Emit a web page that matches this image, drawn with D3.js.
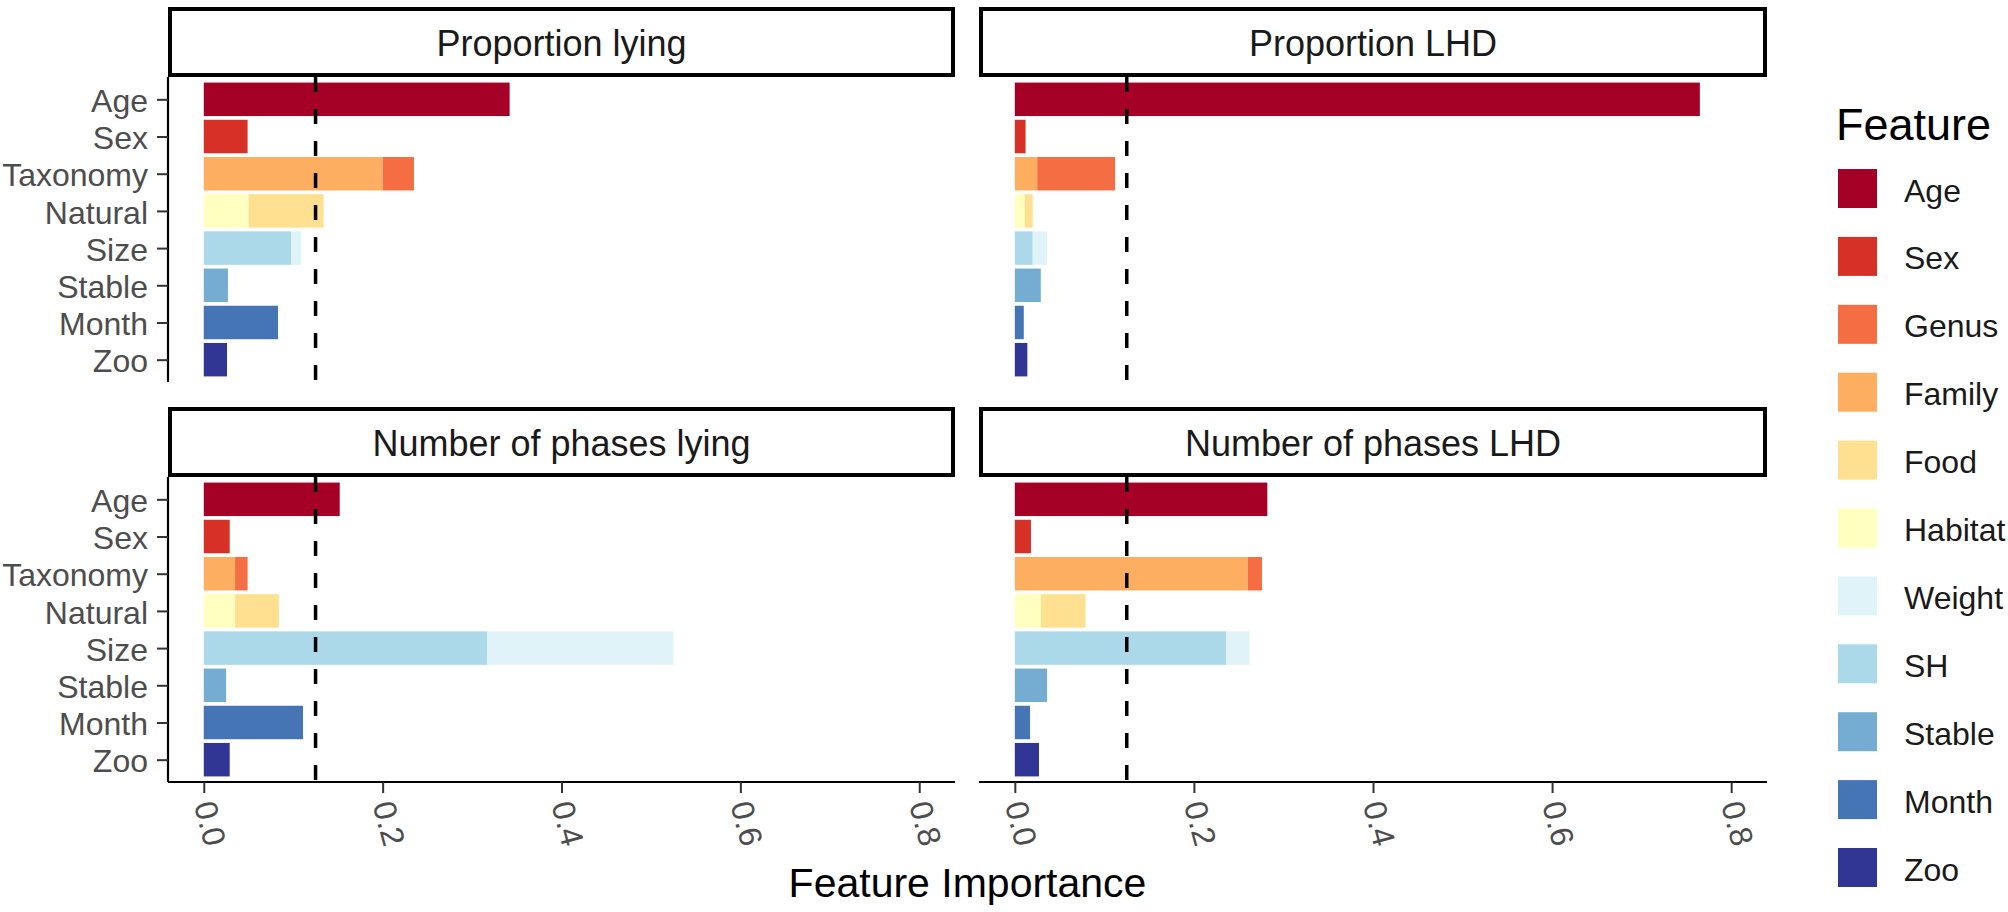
<!DOCTYPE html>
<html>
    <head>
        <meta charset="utf-8">
        <title>Feature importance</title>
        <style type="text/css">
            body {
                margin: 0;
                background-color: #ffffff;
            }
            svg {
                display: block;
                font-family: "Liberation Sans", Arial, sans-serif;
            }
            .strip-text {
                font-size: 36px;
                fill: #1a1a1a;
            }
            .tick-text {
                font-size: 32px;
                fill: #4d4d4d;
            }
            .legend-text {
                font-size: 32px;
                fill: #1a1a1a;
            }
        </style>
        <script src="https://d3js.org/d3.v7.min.js"></script>
    </head>
    <body>
        <svg id="chart" width="2008" height="912"></svg>
        <script>

            // facets, in reading order
            const panels = ["Proportion lying", "Proportion LHD", "Number of phases lying", "Number of phases LHD"];

            // rows of each panel (top to bottom)
            const categories = ["Age", "Sex", "Taxonomy", "Natural", "Size", "Stable", "Month", "Zoo"];

            // legend features, their colour and the row they stack into
            const features = ["Age", "Sex", "Genus", "Family", "Food", "Habitat", "Weight", "SH", "Stable", "Month", "Zoo"];
            const colours = ["#a50026", "#d73027", "#f46d43", "#fdae61", "#fee090", "#ffffbf", "#e0f3f8", "#abd9e9", "#74add1", "#4575b4", "#313695"];
            const featureRow = ["Age", "Sex", "Taxonomy", "Taxonomy", "Natural", "Natural", "Size", "Size", "Stable", "Month", "Zoo"];

            // left to right order inside a stacked bar
            const stackOrder = ["Age", "Sex", "Family", "Genus", "Habitat", "Food", "SH", "Weight", "Stable", "Month", "Zoo"];

            // importance per feature, same order as `features`
            const proportionLying = [0.342, 0.049, 0.035, 0.200, 0.084, 0.050, 0.011, 0.098, 0.027, 0.083, 0.026];
            const proportionLHD = [0.765, 0.012, 0.087, 0.025, 0.009, 0.011, 0.016, 0.020, 0.029, 0.010, 0.014];
            const phasesLying = [0.152, 0.029, 0.014, 0.035, 0.049, 0.035, 0.208, 0.317, 0.025, 0.111, 0.029];
            const phasesLHD = [0.282, 0.018, 0.016, 0.260, 0.050, 0.029, 0.026, 0.236, 0.036, 0.017, 0.027];
            const panelValues = [proportionLying, proportionLHD, phasesLying, phasesLHD];

            const xTicks = [0, 0.2, 0.4, 0.6, 0.8];
            const xTickLabels = ["0.0", "0.2", "0.4", "0.6", "0.8"];
            const threshold = 0.125;

            const svg = d3.select("#chart");

            const cols = [[168, 955], [979, 1767]];
            const rows = [{ strip: 7, top: 77, bottom: 382 }, { strip: 407, top: 477, bottom: 782 }];

            const colour = d3.scaleOrdinal().domain(features).range(colours);

            panels.forEach((title, p) => {
                const col = cols[p % 2];
                const row = rows[Math.floor(p / 2)];
                const isLeft = p % 2 === 0;
                const isBottom = p >= 2;

                const x = d3.scaleLinear().domain([-0.04, 0.84]).range(col);
                const y = d3.scalePoint().domain(categories).range([row.top, row.bottom]).padding(0.6);
                const barH = y.step() * 0.9;

                const g = svg.append("g");

                // strip
                g.append("rect")
                    .attr("x", col[0] + 2)
                    .attr("y", row.strip + 2)
                    .attr("width", col[1] - col[0] - 4)
                    .attr("height", row.top - row.strip - 4)
                    .attr("fill", "#ffffff")
                    .attr("stroke", "#000000")
                    .attr("stroke-width", 4);

                g.append("text")
                    .attr("class", "strip-text")
                    .attr("x", (col[0] + col[1]) / 2)
                    .attr("y", row.strip + 49)
                    .attr("text-anchor", "middle")
                    .text(title);

                // stacked bars
                const vals = panelValues[p];
                const segments = [];
                categories.forEach(cat => {
                    let start = 0;
                    stackOrder.forEach(f => {
                        const i = features.indexOf(f);
                        if (featureRow[i] !== cat) return;
                        segments.push({ feature: f, row: cat, x0: start, x1: start + vals[i] });
                        start += vals[i];
                    });
                });

                g.selectAll("rect.bar")
                    .data(segments)
                    .join("rect")
                    .attr("class", "bar")
                    .attr("x", d => x(d.x0))
                    .attr("y", d => y(d.row) - barH / 2)
                    .attr("width", d => x(d.x1) - x(d.x0))
                    .attr("height", barH)
                    .attr("fill", d => colour(d.feature));

                // threshold line
                g.append("line")
                    .attr("x1", x(threshold))
                    .attr("x2", x(threshold))
                    .attr("y1", row.top)
                    .attr("y2", row.bottom)
                    .attr("stroke", "#000000")
                    .attr("stroke-width", 3.5)
                    .attr("stroke-dasharray", "15,17");

                // y axis on the left column only
                if (isLeft) {
                    const yAxis = g.append("g")
                        .attr("transform", `translate(${col[0]},0)`)
                        .call(d3.axisLeft(y).tickSize(11).tickPadding(9));
                    yAxis.select(".domain")
                        .attr("d", `M0,${row.top}V${row.bottom}`)
                        .attr("stroke", "#000000")
                        .attr("stroke-width", 2.2);
                    yAxis.selectAll(".tick line").attr("stroke", "#333333").attr("stroke-width", 2);
                    yAxis.selectAll(".tick text")
                        .attr("class", "tick-text")
                        .attr("font-family", null)
                        .attr("font-size", null)
                        .attr("fill", null)
                        .attr("dy", "0.38em");
                }

                // x axis on the bottom row only
                if (isBottom) {
                    const xAxis = g.append("g")
                        .attr("transform", `translate(0,${row.bottom})`)
                        .call(d3.axisBottom(x).tickValues(xTicks).tickFormat((d, i) => xTickLabels[i]).tickSize(11));
                    xAxis.select(".domain")
                        .attr("d", `M${col[0]},0H${col[1]}`)
                        .attr("stroke", "#000000")
                        .attr("stroke-width", 2.2);
                    xAxis.selectAll(".tick line").attr("stroke", "#333333").attr("stroke-width", 2);
                    xAxis.selectAll(".tick text")
                        .attr("class", "tick-text")
                        .attr("font-family", null)
                        .attr("font-size", null)
                        .attr("fill", null)
                        .attr("y", null)
                        .attr("dy", null)
                        .attr("text-anchor", "start")
                        .attr("dominant-baseline", "central")
                        .attr("transform", "translate(0,20) rotate(75)");
                }
            });

            // x axis title
            svg.append("text")
                .attr("x", (cols[0][0] + cols[1][1]) / 2)
                .attr("y", 897)
                .attr("text-anchor", "middle")
                .attr("font-size", 41)
                .attr("fill", "#000000")
                .text("Feature Importance");

            // legend
            const legend = svg.append("g").attr("transform", "translate(1838,0)");

            legend.append("text")
                .attr("x", -2)
                .attr("y", 140)
                .attr("font-size", 45)
                .attr("fill", "#000000")
                .text("Feature");

            const keyY = d3.scalePoint().domain(features).range([169, 848]);

            const keys = legend.selectAll("g.key")
                .data(features)
                .join("g")
                .attr("class", "key")
                .attr("transform", d => `translate(0,${keyY(d)})`);

            keys.append("rect")
                .attr("width", 39)
                .attr("height", 39)
                .attr("fill", d => colour(d));

            keys.append("text")
                .attr("class", "legend-text")
                .attr("x", 66)
                .attr("y", 21)
                .attr("dy", "0.36em")
                .text(d => d);

        </script>
    </body>
</html>
